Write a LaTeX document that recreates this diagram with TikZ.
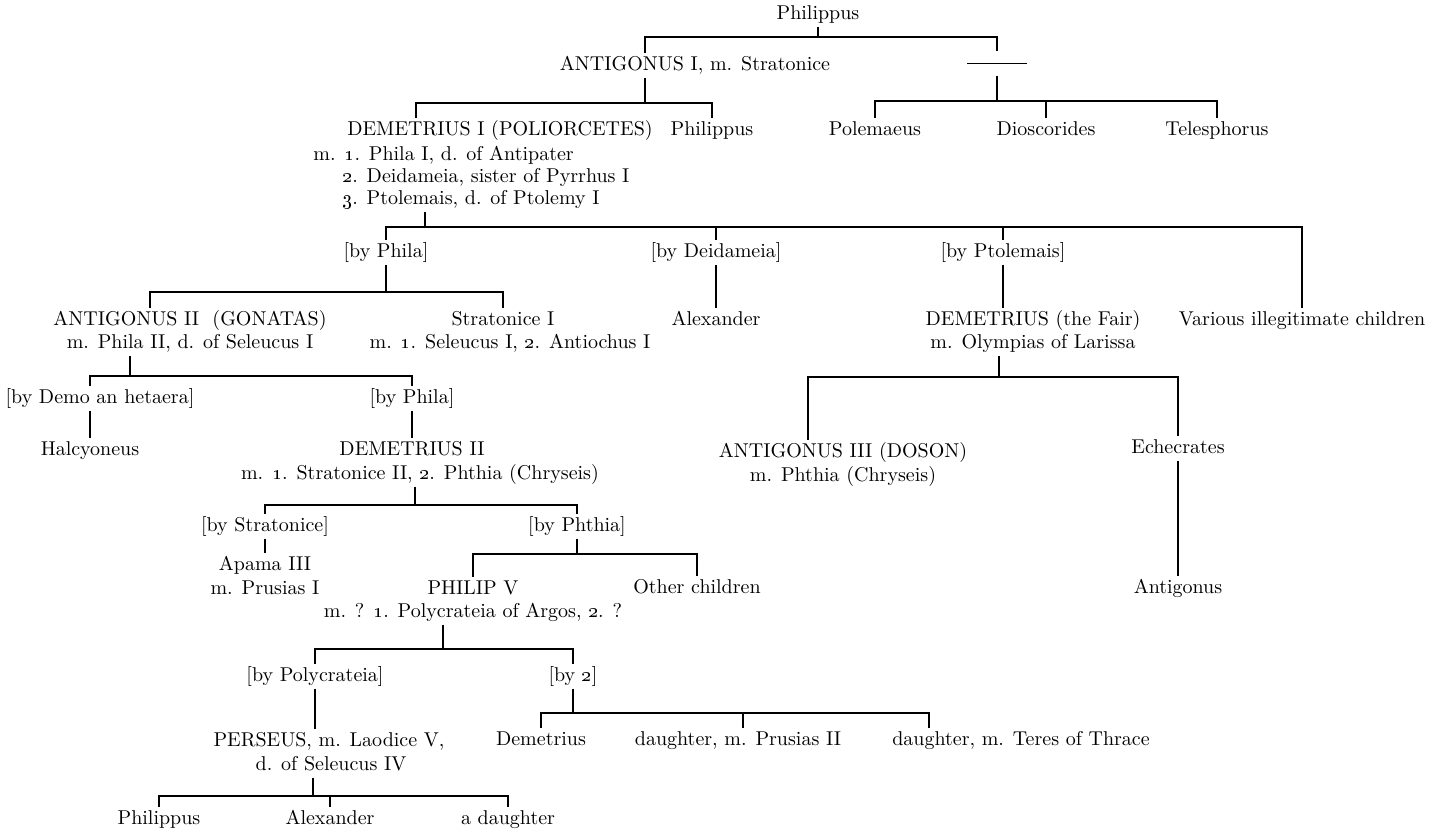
\documentclass[tikz,border=0pt]{standalone}
\usepackage{tikz}

\begin{document}
\begin{tikzpicture}[
  x=0.5pt, y=-0.5pt,
  person/.style={inner sep=1.5pt, text height=7pt, text depth=2pt, anchor=mid,
                 font=\fontsize{10}{11.5}\selectfont},
  wives/.style={inner sep=1.5pt, align=left, anchor=north west,
                font=\fontsize{10}{11}\selectfont},
  tie/.style={line width=0.8pt},
]
\useasboundingbox (0,0) rectangle (1440,834);
\fill[white] (0,0) rectangle (1440,834);

\node[person] (p0) at (818, 15) {Philippus};
\node[person] (ant1) at (695, 66) {ANTIGONUS I, m. Stratonice};
\node[person] (anon) at (997, 64) {\rule[2pt]{30pt}{0.8pt}};

\node[person] (dem1) at (500, 131) {DEMETRIUS I (POLIORCETES)};
\node[wives] (dem1m) at (310, 143) {m. \oldstylenums{1}. Phila I, d. of Antipater\\
  \hphantom{m.\ }\oldstylenums{2}. Deidameia, sister of Pyrrhus I\\
  \hphantom{m.\ }\oldstylenums{3}. Ptolemais, d. of Ptolemy I};
\node[person] (ph2) at (712, 131) {Philippus};
\node[person] (pol) at (875, 131) {Polemaeus};
\node[person] (dio) at (1046, 131) {Dioscorides};
\node[person] (tel) at (1217, 131) {Telesphorus};

\node[person] (byphila) at (386, 253) {[by Phila]};
\node[person] (bydeid) at (716, 253) {[by Deidameia]};
\node[person] (byptol) at (1003, 253) {[by Ptolemais]};
\node[person] (various) at (1302, 321) {Various illegitimate children};

\node[person] (ant2) at (190, 321) {ANTIGONUS II~~(GONATAS)};
\node[person] (ant2m) at (190, 344) {m. Phila II, d. of Seleucus I};
\node[person] (strat1) at (503, 321) {Stratonice I};
\node[person] (strat1m) at (510, 344) {m. \oldstylenums{1}. Seleucus I, \oldstylenums{2}. Antiochus I};
\node[person] (alex1) at (716, 321) {Alexander};
\node[person] (demf) at (1033, 321) {DEMETRIUS (the Fair)};
\node[person] (demfm) at (1033, 344) {m. Olympias of Larissa};

\node[person] (bydemo) at (100, 399) {[by Demo an hetaera]};
\node[person] (byphila2) at (412, 399) {[by Phila]};
\node[person] (halc) at (90, 451) {Halcyoneus};
\node[person] (dem2) at (412, 451) {DEMETRIUS II};
\node[person] (dem2m) at (420, 475) {m. \oldstylenums{1}. Stratonice II, \oldstylenums{2}. Phthia (Chryseis)};
\node[person] (ant3) at (843, 453) {ANTIGONUS III (DOSON)};
\node[person] (ant3m) at (843, 477) {m. Phthia (Chryseis)};
\node[person] (eche) at (1178, 449) {Echecrates};
\node[person] (antg) at (1178, 589) {Antigonus};

\node[person] (bystrat) at (265, 527) {[by Stratonice]};
\node[person] (byphth) at (577, 527) {[by Phthia]};
\node[person] (apama) at (265, 566) {Apama III};
\node[person] (apamam) at (265, 590) {m. Prusias I};
\node[person] (phil5) at (473, 590) {PHILIP V};
\node[person] (phil5m) at (473, 613) {m. ? \oldstylenums{1}. Polycrateia of Argos, \oldstylenums{2}. ?};
\node[person] (other) at (697, 589) {Other children};

\node[person] (bypoly) at (315, 677) {[by Polycrateia]};
\node[person] (by2) at (573, 677) {[by \oldstylenums{2}]};
\node[person] (pers) at (329, 742) {PERSEUS, m. Laodice V,};
\node[person] (persm) at (331, 766) {d. of Seleucus IV};
\node[person] (demt) at (541, 741) {Demetrius};
\node[person] (dpru) at (738, 741) {daughter, m. Prusias II};
\node[person] (dter) at (1021, 741) {daughter, m. Teres of Thrace};

\node[person] (phb) at (159, 820) {Philippus};
\node[person] (alexb) at (330, 820) {Alexander};
\node[person] (dau) at (508, 820) {a daughter};

\coordinate (j1) at (818, 37);
\coordinate (j2) at (645, 103);
\coordinate (j3) at (997, 101);
\coordinate (j4) at (425, 227);
\coordinate (j5) at (386, 292);
\coordinate (j6) at (130, 376);
\coordinate (j7) at (999, 377);
\coordinate (j8) at (415, 505);
\coordinate (j9) at (577, 554);
\coordinate (j10) at (443, 649);
\coordinate (j11) at (573, 713);
\coordinate (j12) at (313, 796);

\draw[tie] (p0.south) -- (j1);
\draw[tie] (j1) -| ([xshift=-25pt]ant1.north);
\draw[tie] (j1) -| (anon.north);

\draw[tie] (j2 |- ant1.south) -- (j2);
\draw[tie] (j2) -| ([xshift=-42pt]dem1.north);
\draw[tie] (j2) -| (ph2.north);

\draw[tie] (anon.south) -- (j3);
\draw[tie] (j3) -| (pol.north);
\draw[tie] (j3) -| (dio.north);
\draw[tie] (j3) -| (tel.north);

\draw[tie] (j4 |- dem1m.south) -- (j4);
\draw[tie] (j4) -| (byphila.north);
\draw[tie] (j4) -| (bydeid.north);
\draw[tie] (j4) -| (byptol.north);
\draw[tie] (j4) -| (various.north);

\draw[tie] (byphila.south) -- (j5);
\draw[tie] (j5) -| ([xshift=-20pt]ant2.north);
\draw[tie] (j5) -| (strat1.north);
\draw[tie] (bydeid.south) -- (alex1.north);
\draw[tie] (byptol.south) -- (byptol.south |- demf.north);

\draw[tie] (j6 |- ant2m.south) -- (j6);
\draw[tie] (j6) -| ([xshift=-5pt]bydemo.north);
\draw[tie] (j6) -| (byphila2.north);
\draw[tie] ([xshift=-5pt]bydemo.south) -- (halc.north);
\draw[tie] (byphila2.south) -- (dem2.north);

\draw[tie] (j7 |- demfm.south) -- (j7);
\draw[tie] (j7) -| ([xshift=-17.5pt]ant3.north);
\draw[tie] (j7) -| (eche.north);
\draw[tie] (eche.south) -- (antg.north);

\draw[tie] (j8 |- dem2m.south) -- (j8);
\draw[tie] (j8) -| (bystrat.north);
\draw[tie] (j8) -| (byphth.north);
\draw[tie] (bystrat.south) -- (apama.north);

\draw[tie] (byphth.south) -- (j9);
\draw[tie] (j9) -| (phil5.north);
\draw[tie] (j9) -| (other.north);

\draw[tie] (j10 |- phil5m.south) -- (j10);
\draw[tie] (j10) -| (bypoly.north);
\draw[tie] (j10) -| (by2.north);
\draw[tie] (bypoly.south) -- (bypoly.south |- pers.north);

\draw[tie] (by2.south) -- (j11);
\draw[tie] (j11) -| (demt.north);
\draw[tie] (j11) -| ([xshift=2.5pt]dpru.north);
\draw[tie] (j11) -| ([xshift=-46pt]dter.north);

\draw[tie] (j12 |- persm.south) -- (j12);
\draw[tie] (j12) -| (phb.north);
\draw[tie] (j12) -| (alexb.north);
\draw[tie] (j12) -| (dau.north);

\end{tikzpicture}
\end{document}
